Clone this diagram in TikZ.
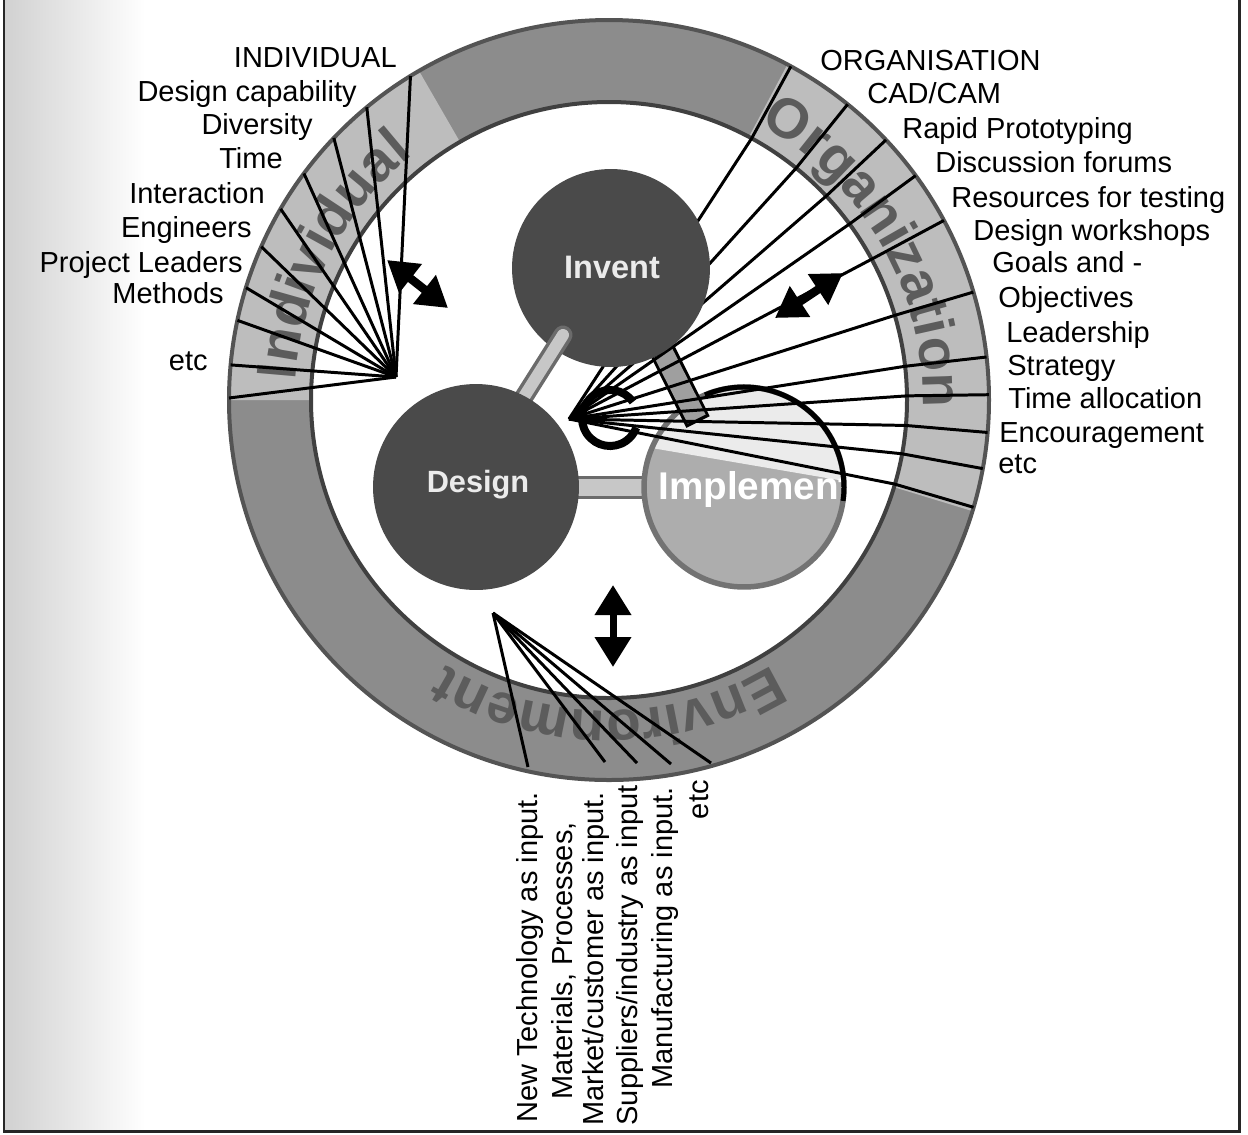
\documentclass[tikz,border=0pt]{standalone}
\usepackage{fontspec}
\setmainfont{Liberation Sans}
\setsansfont{Liberation Sans}
\usetikzlibrary{arrows.meta,decorations.text}
\definecolor{ringdark}{gray}{0.55}
\definecolor{ringlight}{gray}{0.74}
\definecolor{ringedge}{gray}{0.33}
\definecolor{ringtext}{gray}{0.36}
\definecolor{circdark}{gray}{0.29}
\definecolor{implfill}{gray}{0.68}
\definecolor{barfill}{gray}{0.78}
\definecolor{barborder}{gray}{0.42}
\newcommand\ringfont{\bfseries\fontsize{32}{32}\selectfont}
\begin{document}
\begin{tikzpicture}[x=0.02cm,y=0.02cm,
  lbl/.style={inner sep=0pt, font=\fontsize{16.5}{19}\selectfont},
  lbll/.style={lbl, anchor=base east},
  lblr/.style={lbl, anchor=base west},
  lblv/.style={lbl, rotate=90, anchor=base east},
  fan/.style={line width=1.7pt, black, line join=round},
  bigarrow/.style={line width=0.17cm, black,
    {Triangle[length=0.6cm,width=0.7cm]}-{Triangle[length=0.6cm,width=0.7cm]}},
  circnode/.style={circle, fill=circdark, inner sep=0pt},
  circtext/.style={inner sep=0pt, anchor=base, text=white!92!black, font=\bfseries\fontsize{18.5}{20}\selectfont},
  ringlabel/.style={decorate, decoration={text along path, text align=center, text color=ringtext}}
]
\useasboundingbox (0,0) rectangle (1248,-1134);
% scan shading and frame
\shade[left color=black!18, right color=white] (5,0) rectangle (145,-1129);
\draw[line width=0.06cm, black!85] (4,0) -- (4,-1131) -- (1239,-1131) -- (1239,0);

\coordinate (O) at (609,-400);
% ring band
\fill[ringdark, even odd rule] (O) circle (380) (O) circle (298);
\fill[ringlight] ([shift={(O)}]120:380) arc[start angle=120,end angle=180,radius=380]
   -- ([shift={(O)}]180:298) arc[start angle=180,end angle=120,radius=298] -- cycle;
\fill[ringlight] ([shift={(O)}]62:380) arc[start angle=62,end angle=-17,radius=380]
   -- ([shift={(O)}]-17:298) arc[start angle=-17,end angle=62,radius=298] -- cycle;
\draw[ringedge, line width=0.08cm] (O) circle (380);
\draw[black!75, line width=0.08cm] (O) circle (298);

% ring texts
\path[ringlabel, decoration={text={|\ringfont|Individual}}]
  ([shift={(O)}]185:314) arc[start angle=185,end angle=120,radius=314];
\path[ringlabel, decoration={text={|\ringfont|Organization}}]
  ([shift={(O)}]66:314) arc[start angle=66,end angle=-6,radius=314];
\path[ringlabel, decoration={text={|\ringfont|Environment}}]
  ([shift={(O)}]-40:311) arc[start angle=-40,end angle=-140,radius=311];

% Design - Implement bar
\draw[barborder, fill=barfill, line width=0.06cm] (572,-477) rectangle (652,-497);

% Implement circle
\node[circle, minimum size=4.0cm, inner sep=0pt, fill=implfill, draw=black!55, line width=0.11cm] (impl) at (744,-487) {};
\begin{scope}
  \clip (744,-487) circle (97);
  \fill[black!8] (640,-380) -- (640,-446) -- (850,-482) -- (850,-380) -- cycle;
  \node[anchor=base west, inner sep=0pt, text=white, font=\bfseries\fontsize{22}{23}\selectfont] (impltxt) at (658,-499) {Implement};
\end{scope}
\draw[black, line width=0.1cm] ([shift={(744,-487)}]113:100) arc[start angle=113,end angle=-8,radius=100];

% Invent - Implement bar
\draw[black, line width=0.52cm] (662,-350) -- (698,-422);
\draw[barfill!80!black, line width=0.4cm] (663.3,-353) -- (696.7,-419);

% Individual fan
\coordinate (C1) at (396,-377);
\foreach \a in {121.5,129.6,136.4,143.4,149.8,156.2,162.8,167.9,174.7,179.7}
  \draw[fan] (C1) -- ([shift={(O)}]\a:380);

% Organisation fan
\coordinate (C2) at (569,-419);
\foreach \a in {61.4,51.1,43.2,36.2,28.2,16.5,6.5,0.8,-4.9,-10.4,-16.4}
  \draw[fan] (C2) -- ([shift={(O)}]\a:298) -- ([shift={(O)}]\a:380);

% Environment fan
\coordinate (C3) at (493,-613);
\coordinate (e1) at (528,-767);
\coordinate (e2) at (605,-762);
\coordinate (e3) at (637,-763);
\coordinate (e4) at (671,-764);
\coordinate (e5) at (711,-763);
\foreach \e in {e1,e2,e3,e4,e5}
  \draw[fan] (C3) -- (\e);

% Invent circle
\node[circnode, minimum size=3.96cm] (invent) at (611,-268) {};
\node[circtext] (inventtxt) at (612,-278) {Invent};

% Invent - Design bar
\draw[barborder, line width=0.38cm, line cap=round] (563,-335) -- (522,-400);
\draw[barfill, line width=0.24cm, line cap=round] (563,-335) -- (522,-400);

% Design circle
\node[circnode, minimum size=4.12cm] (design) at (476,-487) {};
\node[circtext, font=\bfseries\fontsize{17.5}{19}\selectfont] (designtxt) at (478,-492) {Design};

% small ring
\draw[black, line width=0.16cm] ([shift={(610,-418)}]35:28) arc[start angle=35,end angle=340,radius=28];

% double arrows
\coordinate (a1s) at (387,-260); \coordinate (a1e) at (448,-308);
\coordinate (a2s) at (775,-318); \coordinate (a2e) at (843,-273);
\coordinate (a3s) at (613,-585); \coordinate (a3e) at (613,-667);
\draw[bigarrow] (a1s) -- (a1e);
\draw[bigarrow] (a2s) -- (a2e);
\draw[bigarrow, line width=0.14cm] (a3s) -- (a3e);

% left labels
\node[lbll] (lIND) at (397,-67) {INDIVIDUAL};
\node[lbll] (l1) at (357,-101) {Design capability};
\node[lbll] (l2) at (313,-134) {Diversity};
\node[lbll] (l3) at (283,-168) {Time};
\node[lbll] (l4) at (265,-203) {Interaction};
\node[lbll] (l5) at (252,-237) {Engineers};
\node[lbll] (l6) at (243,-272) {Project Leaders};
\node[lbll] (l7) at (224,-303) {Methods};
\node[lbll] (l8) at (208,-370) {etc};

% right labels
\node[lblr] (rORG) at (820,-70) {ORGANISATION};
\node[lblr] (r1) at (867,-103) {CAD/CAM};
\node[lblr] (r2) at (902,-138) {Rapid Prototyping};
\node[lblr] (r3) at (935,-172) {Discussion forums};
\node[lblr] (r4) at (951,-207) {Resources for testing};
\node[lblr] (r5) at (973,-240) {Design workshops};
\node[lblr] (r6) at (992,-272) {Goals and -};
\node[lblr] (r7) at (998,-307) {Objectives};
\node[lblr] (r8) at (1006,-342) {Leadership};
\node[lblr] (r9) at (1007,-375) {Strategy};
\node[lblr] (r10) at (1008,-408) {Time allocation};
\node[lblr] (r11) at (999,-442) {Encouragement};
\node[lblr] (r12) at (998,-473) {etc};

% bottom labels
\node[lblv] (b1) at (537,-792) {New Technology as input.};
\node[lblv] (b2) at (572,-822) {Materials, Processes,};
\node[lblv] (b3) at (603,-792) {Market/customer as input.};
\node[lblv] (b4) at (637,-785) {Suppliers/industry as input};
\node[lblv] (b5) at (672,-787) {Manufacturing as input.};
\node[lblv] (b6) at (708,-780) {etc};
\end{tikzpicture}
\end{document}
